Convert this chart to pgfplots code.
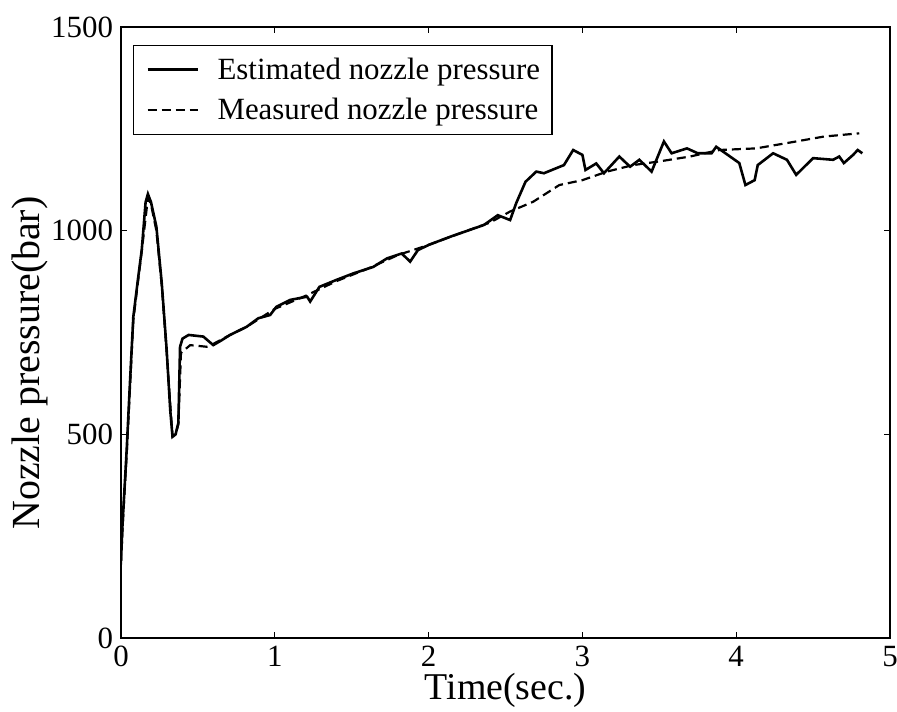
\documentclass[border=0pt]{standalone}
\usepackage{fontspec}
\setmainfont{Liberation Serif}
\usepackage{pgfplots}
\pgfplotsset{compat=1.18}
\begin{document}
\begin{tikzpicture}
\begin{axis}[
  scale only axis,
  width=384.5bp, height=305.5bp,
  xmin=0, xmax=5, ymin=0, ymax=1500,
  xtick={0,1,2,3,4,5}, ytick={0,500,1000,1500},
  tick align=inside, major tick length=3bp,
  axis line style={line width=0.7pt},
  every tick/.style={black, line width=0.6pt},
  /pgf/number format/assume math mode=true,
  /pgf/number format/1000 sep={},
  ticklabel style={font=\fontsize{15.5}{17}\selectfont},
  xticklabel style={yshift=-0.5bp},
  yticklabel style={xshift=-0.5bp},
  xlabel={Time(sec.)}, ylabel={Nozzle pressure(bar)},
  xlabel style={font=\fontsize{19}{21}\selectfont, yshift=3.5bp},
  ylabel style={font=\fontsize{20}{22}\selectfont, at={(ticklabel cs:0.45)}, yshift=-5bp},
  legend style={at={(6bp,296.5bp)}, anchor=north west, draw=black, line width=0.6pt,
    font=\fontsize{15.5}{17}\selectfont, row sep=4bp, inner xsep=4bp, inner ysep=4bp},
  legend cell align=left,
  legend image code/.code={\path[draw=none] (0bp,0bp) -- (36bp,0bp); \draw[#1] (3bp,0bp) -- (28bp,0bp);},
]
\addplot[black, line width=1.3pt] coordinates {
(0.000,190) (0.010,280) (0.037,462) (0.060,640) (0.080,788) (0.110,880) (0.135,953)
(0.160,1070) (0.175,1090) (0.195,1070) (0.230,1010) (0.265,871) (0.297,707) (0.320,560)
(0.335,494) (0.355,500) (0.373,528) (0.384,715) (0.400,735) (0.440,744) (0.535,740)
(0.600,719) (0.650,730) (0.709,744) (0.817,764) (0.893,785) (0.970,793) (1.010,813)
(1.100,830) (1.210,838) (1.230,826) (1.290,862) (1.400,879) (1.510,895) (1.640,911)
(1.730,932) (1.825,944) (1.880,924) (1.930,952) (2.000,965) (2.140,985) (2.360,1014)
(2.450,1038) (2.530,1026) (2.570,1068) (2.630,1120) (2.700,1145) (2.750,1141) (2.880,1161)
(2.940,1198) (3.000,1186) (3.020,1149) (3.090,1165) (3.140,1141) (3.240,1182) (3.310,1157)
(3.370,1174) (3.450,1145) (3.530,1219) (3.580,1190) (3.680,1202) (3.750,1190) (3.840,1190)
(3.870,1206) (3.960,1182) (4.020,1166) (4.060,1112) (4.120,1124) (4.140,1161) (4.240,1190)
(4.330,1174) (4.390,1137) (4.500,1178) (4.630,1174) (4.670,1182) (4.700,1166) (4.760,1186)
(4.790,1198) (4.820,1190)
};
\addlegendentry{Estimated nozzle pressure}
\addplot[black, line width=1.1pt, dash pattern=on 4.5bp off 2.5bp] coordinates {
(0.000,180) (0.010,270) (0.037,450) (0.080,780) (0.135,950) (0.175,1080) (0.195,1065)
(0.230,1000) (0.265,865) (0.297,700) (0.335,495) (0.355,500) (0.373,525) (0.390,700)
(0.450,719) (0.557,715) (0.600,722) (0.709,744) (0.817,764) (1.000,808) (1.200,840)
(1.400,876) (1.600,906) (1.800,940) (2.000,965) (2.200,993) (2.400,1020) (2.530,1047)
(2.680,1071) (2.850,1112) (3.000,1124) (3.160,1145) (3.330,1161) (3.500,1170) (3.700,1182)
(3.890,1198) (4.130,1202) (4.390,1219) (4.570,1231) (4.800,1239)
};
\addlegendentry{Measured nozzle pressure}
\end{axis}
\pgfresetboundingbox
\path (-60.5bp,-37bp) rectangle (388bp,319bp);
\end{tikzpicture}
\end{document}
